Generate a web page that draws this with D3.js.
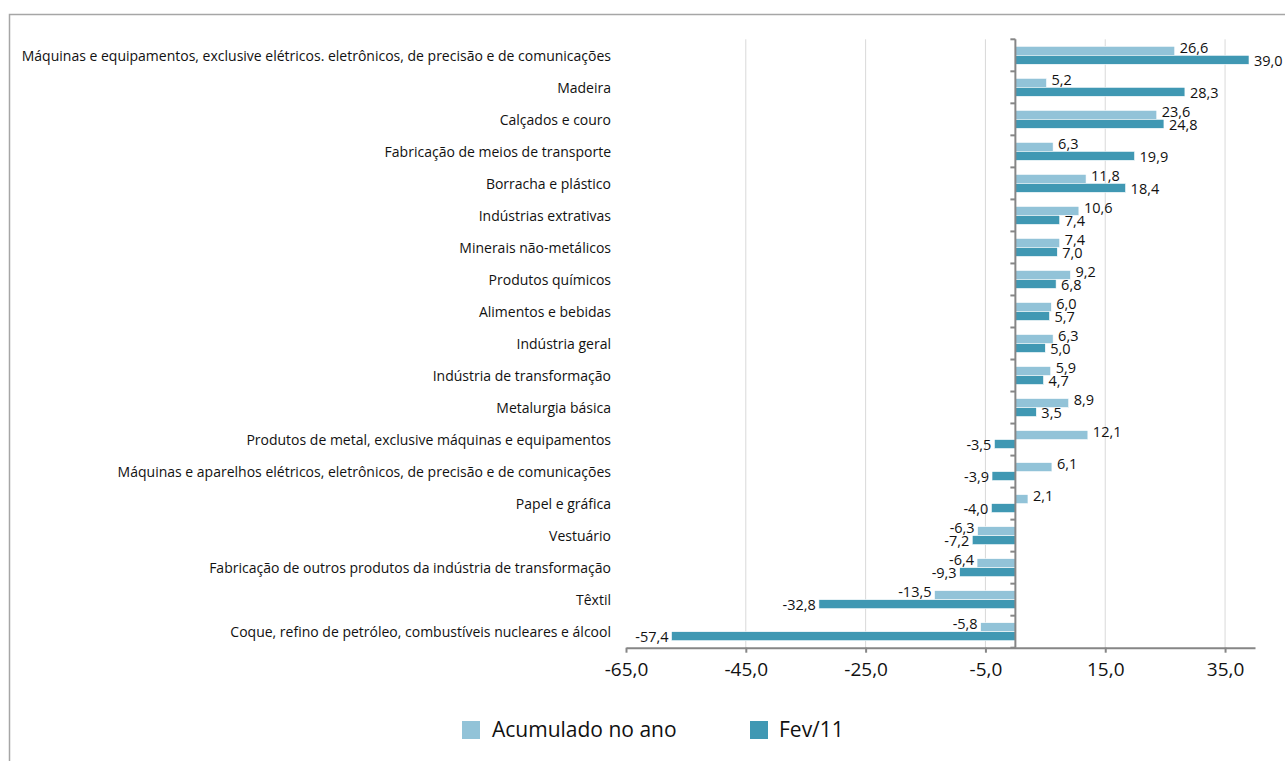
<!DOCTYPE html>
<html lang="pt-BR">
<head>
<meta charset="utf-8">
<script src="https://cdn.jsdelivr.net/npm/d3@7"></script>
<style>
  html, body { margin: 0; padding: 0; background: #ffffff; }
  svg { display: block; }
  text { fill: #111111; }
</style>
</head>
<body>
<svg id="chart" width="1285" height="761"></svg>
<script>
// Produção industrial por setor: variação (%) acumulada no ano e no mês de fevereiro/2011
const categories = [
  "Máquinas e equipamentos, exclusive elétricos. eletrônicos, de precisão e de comunicações",
  "Madeira",
  "Calçados e couro",
  "Fabricação de meios de transporte",
  "Borracha e plástico",
  "Indústrias extrativas",
  "Minerais não-metálicos",
  "Produtos químicos",
  "Alimentos e bebidas",
  "Indústria geral",
  "Indústria de transformação",
  "Metalurgia básica",
  "Produtos de metal, exclusive máquinas e equipamentos",
  "Máquinas e aparelhos elétricos, eletrônicos, de precisão e de comunicações",
  "Papel e gráfica",
  "Vestuário",
  "Fabricação de outros produtos da indústria de transformação",
  "Têxtil",
  "Coque, refino de petróleo, combustíveis nucleares e álcool"
];
const acumuladoNoAno = [26.6, 5.2, 23.6, 6.3, 11.8, 10.6, 7.4, 9.2, 6.0, 6.3, 5.9, 8.9, 12.1, 6.1, 2.1, -6.3, -6.4, -13.5, -5.8];
const fev11 = [39.0, 28.3, 24.8, 19.9, 18.4, 7.4, 7.0, 6.8, 5.7, 5.0, 4.7, 3.5, -3.5, -3.9, -4.0, -7.2, -9.3, -32.8, -57.4];
const seriesNames = ["Acumulado no ano", "Fev/11"];
const xTicks = [-65, -45, -25, -5, 15, 35];
const xDomain = [-65, 40];

const colors = { light: "#92c3d8", dark: "#4098b3", axis: "#868686", grid: "#d9d9d9" };
const fmt = v => d3.format(".1f")(v).replace(".", ",").replace("−", "-");

const svg = d3.select("#chart");

// chart area frame
svg.append("rect")
  .attr("x", 9.5).attr("y", 14.5)
  .attr("width", 1300).attr("height", 800)
  .attr("fill", "none")
  .attr("stroke", "#a6a6a6").attr("stroke-width", 1.5);

const plot = { left: 626, right: 1255, top: 39.3, bottom: 647.7 };

const x = d3.scaleLinear().domain(xDomain).range([plot.left, plot.right]);
const y = d3.scaleBand().domain(categories).range([plot.top, plot.bottom]).paddingInner(0).paddingOuter(0);
const barH = 9;

// vertical gridlines
svg.append("g")
  .selectAll("line")
  .data(xTicks.filter(t => t !== xDomain[0]))
  .join("line")
  .attr("x1", d => x(d)).attr("x2", d => x(d))
  .attr("y1", plot.top).attr("y2", plot.bottom)
  .attr("stroke", colors.grid).attr("stroke-width", 1);

// bars
const rows = categories.map((c, i) => ({ c, a: acumuladoNoAno[i], f: fev11[i] }));
const g = svg.append("g");
const x0 = x(0);

g.selectAll("rect.acum")
  .data(rows)
  .join("rect")
  .attr("class", "acum")
  .attr("x", d => Math.min(x(d.a), x0))
  .attr("y", d => y(d.c) + y.bandwidth() / 2 - barH)
  .attr("width", d => Math.abs(x(d.a) - x0))
  .attr("height", barH)
  .attr("fill", colors.light)
  .attr("stroke", "#ffffff").attr("stroke-width", 0.6);

g.selectAll("rect.fev")
  .data(rows)
  .join("rect")
  .attr("class", "fev")
  .attr("x", d => Math.min(x(d.f), x0))
  .attr("y", d => y(d.c) + y.bandwidth() / 2)
  .attr("width", d => Math.abs(x(d.f) - x0))
  .attr("height", barH)
  .attr("fill", colors.dark)
  .attr("stroke", "#ffffff").attr("stroke-width", 0.6);

// value labels
const labelFont = "'Open Sans', 'Noto Sans', sans-serif";
function valueLabels(cls, key, dy) {
  g.selectAll("text." + cls)
    .data(rows)
    .join("text")
    .attr("class", cls)
    .attr("x", d => d[key] >= 0 ? x(d[key]) + 5 : x(d[key]) - 3)
    .attr("y", d => y(d.c) + y.bandwidth() / 2 + dy)
    .attr("text-anchor", d => d[key] >= 0 ? "start" : "end")
    .attr("dominant-baseline", "central")
    .style("font-family", labelFont)
    .style("font-size", "14.5px")
    .text(d => fmt(d[key]));
}
valueLabels("lab-acum", "a", -barH / 2 - 3.5);
valueLabels("lab-fev", "f", barH / 2 + 0.8);

// category axis along zero
const yAxis = svg.append("g");
yAxis.append("line")
  .attr("x1", x0).attr("x2", x0)
  .attr("y1", plot.top).attr("y2", plot.bottom)
  .attr("stroke", colors.axis).attr("stroke-width", 2);
const bounds = categories.map(c => y(c)).concat([plot.bottom]);
yAxis.selectAll("line.tk")
  .data(bounds)
  .join("line")
  .attr("class", "tk")
  .attr("x1", x0 - 5).attr("x2", x0)
  .attr("y1", d => d).attr("y2", d => d)
  .attr("stroke", colors.axis).attr("stroke-width", 2);

// category names on the left
svg.append("g")
  .selectAll("text")
  .data(categories)
  .join("text")
  .attr("x", 611)
  .attr("y", d => y(d) + y.bandwidth() / 2)
  .attr("text-anchor", "end")
  .attr("dominant-baseline", "central")
  .style("font-family", labelFont)
  .style("font-size", "14px")
  .text(d => d);

// value axis
const xAxis = svg.append("g")
  .attr("transform", `translate(0,${plot.bottom})`)
  .call(d3.axisBottom(x).tickValues(xTicks).tickFormat(fmt).tickSize(5).tickSizeOuter(0).tickPadding(10));
xAxis.select(".domain").attr("stroke", colors.axis).attr("stroke-width", 2);
xAxis.selectAll(".tick line").attr("stroke", colors.axis).attr("stroke-width", 2);
xAxis.selectAll(".tick text")
  .style("font-family", labelFont)
  .style("font-size", "19px")
  .attr("fill", "#111111");

// legend
const legend = svg.append("g");
const legendItems = [
  { name: seriesNames[0], color: colors.light, sx: 462, tx: 492 },
  { name: seriesNames[1], color: colors.dark, sx: 750, tx: 779 }
];
legend.selectAll("rect")
  .data(legendItems)
  .join("rect")
  .attr("x", d => d.sx).attr("y", 721)
  .attr("width", 18).attr("height", 18)
  .attr("fill", d => d.color);
legend.selectAll("text")
  .data(legendItems)
  .join("text")
  .attr("x", d => d.tx).attr("y", 737)
  .style("font-family", labelFont)
  .style("font-size", "21px")
  .text(d => d.name);
</script>
</body>
</html>
